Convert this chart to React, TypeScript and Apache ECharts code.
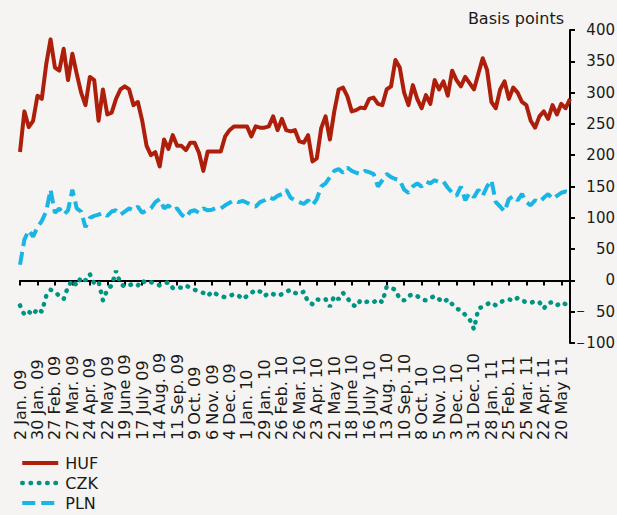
import React, { useEffect, useRef } from "react";
import * as echarts from "echarts";

const tickLabels = [
  "2 Jan. 09", "30 Jan. 09", "27 Feb. 09", "27 Mar. 09", "24 Apr. 09", "22 May 09",
  "19 June 09", "17 July 09", "14 Aug. 09", "11 Sep. 09", "9 Oct. 09", "6 Nov. 09",
  "4 Dec. 09", "1 Jan. 10", "29 Jan. 10", "26 Feb. 10", "26 Mar. 10", "23 Apr. 10",
  "21 May 10", "18 June 10", "16 July 10", "13 Aug. 10", "10 Sep. 10", "8 Oct. 10",
  "5 Nov. 10", "3 Dec. 10", "31 Dec. 10", "28 Jan. 11", "25 Feb. 11", "25 Mar. 11",
  "22 Apr. 11", "20 May 11",
];

// weekly observations, 2 Jan 2009 .. 3 Jun 2011
const huf = [
  205, 270, 245, 255, 295, 290, 345, 385, 340, 335,
  370, 320, 362, 330, 300, 280, 325, 320, 255, 305,
  265, 268, 290, 305, 310, 305, 280, 285, 255, 215,
  200, 205, 182, 225, 210, 232, 215, 215, 208, 220,
  220, 204, 175, 206, 206, 206, 206, 230, 240, 246,
  246, 246, 246, 230, 246, 244, 244, 246, 262, 240,
  258, 240, 238, 240, 222, 220, 232, 190, 195, 243,
  262, 225, 270, 305, 308, 294, 270, 272, 276, 275,
  290, 292, 282, 280, 305, 310, 352, 340, 300, 280,
  312, 290, 275, 296, 282, 320, 305, 318, 295, 335,
  320, 310, 325, 315, 305, 330, 355, 336, 285, 275,
  305, 318, 290, 308, 300, 285, 280, 255, 244, 262,
  270, 258, 280, 265, 282, 275, 290,
];

const czk = [
  -40, -55, -50, -55, -45, -50, -25, -15, -18, -25,
  -30, -10, 0, -8, 5, 0, 10, -5, -2, -32,
  -15, -8, 15, -5, -10, -8, -5, -8, 0, -5,
  -3, -5, -8, -5, -3, -12, -10, -12, -8, -12,
  -15, -18, -20, -25, -18, -22, -25, -27, -25, -22,
  -24, -30, -25, -20, -15, -18, -25, -20, -22, -25,
  -22, -18, -15, -20, -22, -18, -35, -38, -30, -32,
  -30, -42, -25, -30, -20, -28, -38, -42, -32, -35,
  -33, -35, -30, -35, -10, -12, -15, -30, -32, -25,
  -22, -25, -30, -32, -28, -25, -30, -35, -30, -38,
  -45, -48, -55, -62, -78, -45, -42, -38, -35, -40,
  -35, -32, -30, -33, -28, -32, -35, -36, -33, -35,
  -45, -36, -35, -40, -35, -38, -40,
];

const pln = [
  25, 65, 80, 70, 85, 95, 110, 145, 108, 115,
  105, 112, 145, 115, 110, 85, 100, 103, 105, 108,
  103, 110, 112, 105, 110, 115, 112, 118, 108, 112,
  115, 125, 130, 115, 120, 112, 115, 105, 100, 110,
  112, 108, 115, 112, 113, 116, 115, 120, 124, 128,
  125, 127, 124, 120, 118, 125, 128, 133, 130, 135,
  138, 145, 132, 128, 125, 122, 128, 120, 130, 150,
  155, 165, 175, 178, 172, 180, 175, 172, 170, 175,
  173, 170, 150, 160, 170, 165, 162, 160, 145, 140,
  150, 155, 150, 158, 155, 160, 157, 158, 148, 140,
  135, 150, 128, 140, 133, 145, 135, 150, 160, 125,
  118, 110, 130, 135, 128, 138, 125, 120, 128, 125,
  132, 138, 130, 135, 140, 142, 140,
];

const yTicks = { min: -100, max: 400, interval: 50 };

const HUF_COLOR = "#ad1f0b";
const CZK_COLOR = "#009582";
const PLN_COLOR = "#19b5e4";
const FONT = "DejaVu Sans";

const hufLine = { color: HUF_COLOR, width: 4, type: "solid" as const };
const czkLine = { color: CZK_COLOR, width: 4.5, type: [0.5, 7.8], cap: "round" as const };
const plnLine = { color: PLN_COLOR, width: 4, type: [13, 6] };

export default function App() {
  const ref = useRef<HTMLDivElement>(null);

  useEffect(() => {
    if (!ref.current) return;
    const chart = echarts.init(ref.current, null, { renderer: "svg" });
    const categories = huf.map((_, i) =>
      i % 4 === 0 && tickLabels[i / 4] ? tickLabels[i / 4] : `w${i}`
    );

    chart.setOption({
      animation: false,
      backgroundColor: "#f5f4f2",
      title: {
        text: "Basis points",
        right: 48,
        top: 5,
        textStyle: { fontFamily: FONT, fontSize: 16, fontWeight: "normal", color: "#1a1a1a" },
      },
      legend: {
        orient: "vertical",
        left: 20,
        top: 455,
        padding: 0,
        itemWidth: 36,
        itemHeight: 14,
        itemGap: 4,
        itemStyle: { opacity: 0 },
        textStyle: { fontFamily: FONT, fontSize: 16, color: "#1a1a1a", padding: [0, 0, 0, 2] },
        data: [
          { name: "HUF", lineStyle: hufLine, itemStyle: { opacity: 0 } },
          { name: "CZK", lineStyle: czkLine, itemStyle: { opacity: 0 } },
          { name: "PLN", lineStyle: plnLine, itemStyle: { opacity: 0 } },
        ],
      },
      grid: {
        left: 20,
        right: 47,
        top: 30,
        bottom: 172,
        containLabel: false,
        outerBoundsMode: "none",
      },
      xAxis: [
        {
          type: "category",
          data: categories,
          boundaryGap: false,
          position: "bottom",
          axisLine: { show: false, onZero: false },
          axisTick: { show: false },
          splitLine: { show: false },
          axisLabel: {
            interval: 3,
            rotate: 90,
            align: "left",
            verticalAlign: "middle",
            margin: 97,
            fontFamily: FONT,
            fontSize: 16,
            color: "#1a1a1a",
            hideOverlap: false,
          },
        },
        {
          type: "category",
          data: categories,
          boundaryGap: false,
          position: "bottom",
          axisLine: { show: true, onZero: true, onZeroAxisIndex: 0, lineStyle: { color: "#000", width: 2 } },
          axisTick: { show: true, interval: 3, length: 5, lineStyle: { color: "#000", width: 2 } },
          axisLabel: { show: false },
          splitLine: { show: false },
        },
      ],
      yAxis: {
        type: "value",
        position: "right",
        min: yTicks.min,
        max: yTicks.max,
        interval: yTicks.interval,
        splitLine: { show: false },
        axisLine: { show: true, lineStyle: { color: "#000", width: 2 } },
        axisTick: { show: true, length: 5, lineStyle: { color: "#000", width: 2 } },
        axisLabel: {
          margin: 6,
          align: "left",
          formatter: (v: number) =>
            v < 0 ? `{m|\u2212}{n|${Math.abs(v)}}` : `{m| }{n|${v}}`,
          rich: {
            m: { width: 10, align: "left", fontFamily: FONT, fontSize: 11, color: "#1a1a1a" },
            n: { width: 29, align: "right", fontFamily: FONT, fontSize: 15, color: "#1a1a1a" },
          },
        },
      },
      series: [
        {
          name: "HUF",
          type: "line",
          data: huf,
          xAxisIndex: 0,
          symbol: "none",
          lineStyle: { ...hufLine, join: "round" },
          itemStyle: { color: HUF_COLOR },
          z: 3,
        },
        {
          name: "CZK",
          type: "line",
          data: czk,
          xAxisIndex: 0,
          symbol: "none",
          lineStyle: czkLine,
          itemStyle: { color: CZK_COLOR },
          z: 2,
        },
        {
          name: "PLN",
          type: "line",
          data: pln,
          xAxisIndex: 0,
          symbol: "none",
          lineStyle: plnLine,
          itemStyle: { color: PLN_COLOR },
          z: 2,
        },
      ],
    });

    return () => chart.dispose();
  }, []);

  return (
    <div
      ref={ref}
      style={{ position: "fixed", left: 0, top: 0, width: 617, height: 515, background: "#f5f4f2" }}
    />
  );
}
